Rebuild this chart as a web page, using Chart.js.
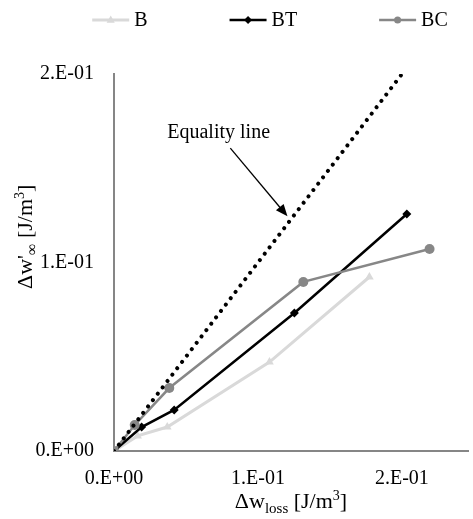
<!DOCTYPE html>
<html>
<head>
<meta charset="utf-8">
<script src="https://cdn.jsdelivr.net/npm/chart.js@4/dist/chart.umd.min.js"></script>
<style>
  body { margin: 0; background: #fff; }
  #wrap { width: 473px; height: 519px; }
</style>
</head>
<body>
<div id="wrap"><canvas id="chart" width="473" height="519"></canvas></div>
<script>
// series (x = Δw_loss, y = Δw'∞, J/m3)
const bX = [0, 0.0164, 0.037, 0.108, 0.1774];
const bY = [0, 0.008, 0.0127, 0.0472, 0.0923];
const btX = [0, 0.0192, 0.0418, 0.1253, 0.2034];
const btY = [0, 0.0127, 0.0218, 0.0732, 0.1257];
const bcX = [0, 0.0144, 0.0384, 0.1315, 0.2192];
const bcY = [0, 0.0138, 0.0334, 0.0897, 0.1072];
const equalityX = [0, 0.2];
const equalityY = [0, 0.2];

const xTickLabels = ['0.E+00', '1.E-01', '2.E-01'];
const yTickLabels = ['0.E+00', '1.E-01', '2.E-01'];
const seriesNames = ['B', 'BT', 'BC'];
const annotationText = 'Equality line';

const FONT = "'Liberation Serif', 'Times New Roman', serif";
const AXIS = '#868686';

const pts = (xs, ys) => xs.map((x, i) => ({ x: x, y: ys[i] }));

// little helper for markers, used in the legend
function marker(ctx, style, x, y, r, color) {
    ctx.save();
    ctx.fillStyle = color;
    ctx.beginPath();
    if (style === 'triangle') {
        ctx.moveTo(x, y - r);
        ctx.lineTo(x + r * 0.9, y + r * 0.6);
        ctx.lineTo(x - r * 0.9, y + r * 0.6);
    } else if (style === 'rectRot') {
        ctx.moveTo(x, y - r);
        ctx.lineTo(x + r, y);
        ctx.lineTo(x, y + r);
        ctx.lineTo(x - r, y);
    } else {
        ctx.arc(x, y, r, 0, Math.PI * 2);
    }
    ctx.closePath();
    ctx.fill();
    ctx.restore();
}

// draws one line of text with sub/superscript pieces, returns width
function richText(ctx, parts, x, y, measureOnly) {
    let w = 0;
    parts.forEach(p => {
        ctx.font = p.size + 'px ' + FONT;
        if (!measureOnly) ctx.fillText(p.t, x + w, y + (p.dy || 0));
        w += ctx.measureText(p.t).width;
    });
    return w;
}

const extras = {
    id: 'extras',
    afterDraw(chart) {
        const ctx = chart.ctx;
        const xs = chart.scales.x, ys = chart.scales.y;
        const area = chart.chartArea;
        ctx.save();
        ctx.fillStyle = '#000';
        ctx.textBaseline = 'alphabetic';
        ctx.textAlign = 'left';

        // legend: line + marker + name
        ctx.font = '20px ' + FONT;
        const items = chart.data.datasets.slice(0, 3);
        const legendMarks = [4.5, 4, 3.5];
        const lineLen = 37, gap = 5, spacing = 82;
        const widths = items.map(d => lineLen + gap + ctx.measureText(d.label).width);
        const total = widths.reduce((a, b) => a + b, 0) + spacing * (items.length - 1);
        let lx = 270 - total / 2;
        const ly = 20;
        items.forEach((d, i) => {
            ctx.strokeStyle = d.borderColor;
            ctx.lineWidth = d.borderWidth;
            ctx.beginPath();
            ctx.moveTo(lx, ly);
            ctx.lineTo(lx + lineLen, ly);
            ctx.stroke();
            marker(ctx, d.pointStyle, lx + lineLen / 2, ly, legendMarks[i], d.pointBackgroundColor);
            ctx.fillStyle = '#000';
            ctx.textBaseline = 'middle';
            ctx.font = '20px ' + FONT;
            ctx.fillText(d.label, lx + lineLen + gap, ly + 1);
            lx += widths[i] + spacing;
        });
        ctx.textBaseline = 'alphabetic';

        // x axis title: Δw_loss [J/m3]
        const xParts = [
            { t: 'Δw', size: 22 },
            { t: 'loss', size: 15, dy: 5 },
            { t: ' [J/m', size: 22 },
            { t: '3', size: 14, dy: -8 },
            { t: ']', size: 22 }
        ];
        const xw = richText(ctx, xParts, 0, 0, true);
        richText(ctx, xParts, (area.left + area.right) / 2 - xw / 2, 508);

        // y axis title: Δw'∞ [J/m3]
        const yParts = [
            { t: "Δw'", size: 22 },
            { t: '∞', size: 16, dy: 5 },
            { t: ' [J/m', size: 22 },
            { t: '3', size: 14, dy: -8 },
            { t: ']', size: 22 }
        ];
        const yw = richText(ctx, yParts, 0, 0, true);
        ctx.save();
        ctx.translate(32, 289);
        ctx.rotate(-Math.PI / 2);
        richText(ctx, yParts, 0, 0);
        ctx.restore();

        // equality line annotation with arrow
        ctx.font = '20px ' + FONT;
        ctx.fillText(annotationText, xs.getPixelForValue(0.037), ys.getPixelForValue(0.166));
        const ax0 = xs.getPixelForValue(0.0808), ay0 = ys.getPixelForValue(0.1607);
        const ax1 = xs.getPixelForValue(0.1205), ay1 = ys.getPixelForValue(0.1245);
        const ang = Math.atan2(ay1 - ay0, ax1 - ax0);
        const hl = 12, hw = 5;
        ctx.strokeStyle = '#000';
        ctx.lineWidth = 1.3;
        ctx.beginPath();
        ctx.moveTo(ax0, ay0);
        ctx.lineTo(ax1 - Math.cos(ang) * hl * 0.8, ay1 - Math.sin(ang) * hl * 0.8);
        ctx.stroke();
        ctx.beginPath();
        ctx.moveTo(ax1, ay1);
        ctx.lineTo(ax1 - Math.cos(ang) * hl + Math.sin(ang) * hw, ay1 - Math.sin(ang) * hl - Math.cos(ang) * hw);
        ctx.lineTo(ax1 - Math.cos(ang) * hl - Math.sin(ang) * hw, ay1 - Math.sin(ang) * hl + Math.cos(ang) * hw);
        ctx.closePath();
        ctx.fill();
        ctx.restore();
    }
};

new Chart(document.getElementById('chart'), {
    type: 'scatter',
    data: {
        datasets: [
            {
                label: seriesNames[0],
                data: pts(bX, bY),
                showLine: true,
                borderColor: '#d9d9d9',
                borderWidth: 3,
                pointStyle: 'triangle',
                pointRadius: 5,
                pointBackgroundColor: '#d9d9d9',
                pointBorderWidth: 0,
                order: 4
            },
            {
                label: seriesNames[1],
                data: pts(btX, btY),
                showLine: true,
                borderColor: '#000000',
                borderWidth: 2.5,
                pointStyle: 'rectRot',
                pointRadius: 4.5,
                pointBackgroundColor: '#000000',
                pointBorderWidth: 0,
                order: 3
            },
            {
                label: seriesNames[2],
                data: pts(bcX, bcY),
                showLine: true,
                borderColor: '#878787',
                borderWidth: 2.5,
                pointStyle: 'circle',
                pointRadius: 5,
                pointBackgroundColor: '#878787',
                pointBorderWidth: 0,
                order: 2
            },
            {
                label: 'Equality',
                data: pts(equalityX, equalityY),
                showLine: true,
                borderColor: '#000000',
                borderWidth: 4,
                borderDash: [0.01, 8],
                borderCapStyle: 'round',
                pointRadius: 0,
                order: 1
            }
        ]
    },
    options: {
        responsive: false,
        animation: false,
        layout: { padding: { top: 74, left: 0, right: 0, bottom: 0 } },
        plugins: {
            legend: { display: false },
            tooltip: { enabled: false }
        },
        scales: {
            x: {
                type: 'linear',
                min: 0,
                max: 0.2459,
                grid: { display: false, drawTicks: false },
                border: { display: true, color: AXIS, width: 2 },
                ticks: {
                    stepSize: 0.1,
                    includeBounds: false,
                    maxRotation: 0,
                    padding: 16,
                    color: '#000',
                    font: { family: FONT, size: 20 },
                    callback: (v, i) => xTickLabels[i]
                },
                afterFit: s => { s.height = 68; }
            },
            y: {
                type: 'linear',
                min: 0,
                max: 0.2,
                grid: { display: false, drawTicks: false },
                border: { display: true, color: AXIS, width: 2 },
                ticks: {
                    stepSize: 0.1,
                    includeBounds: false,
                    padding: 20,
                    color: '#000',
                    font: { family: FONT, size: 20 },
                    callback: (v, i) => yTickLabels[i]
                },
                afterFit: s => { s.width = 114; }
            }
        }
    },
    plugins: [extras]
});
</script>
</body>
</html>
